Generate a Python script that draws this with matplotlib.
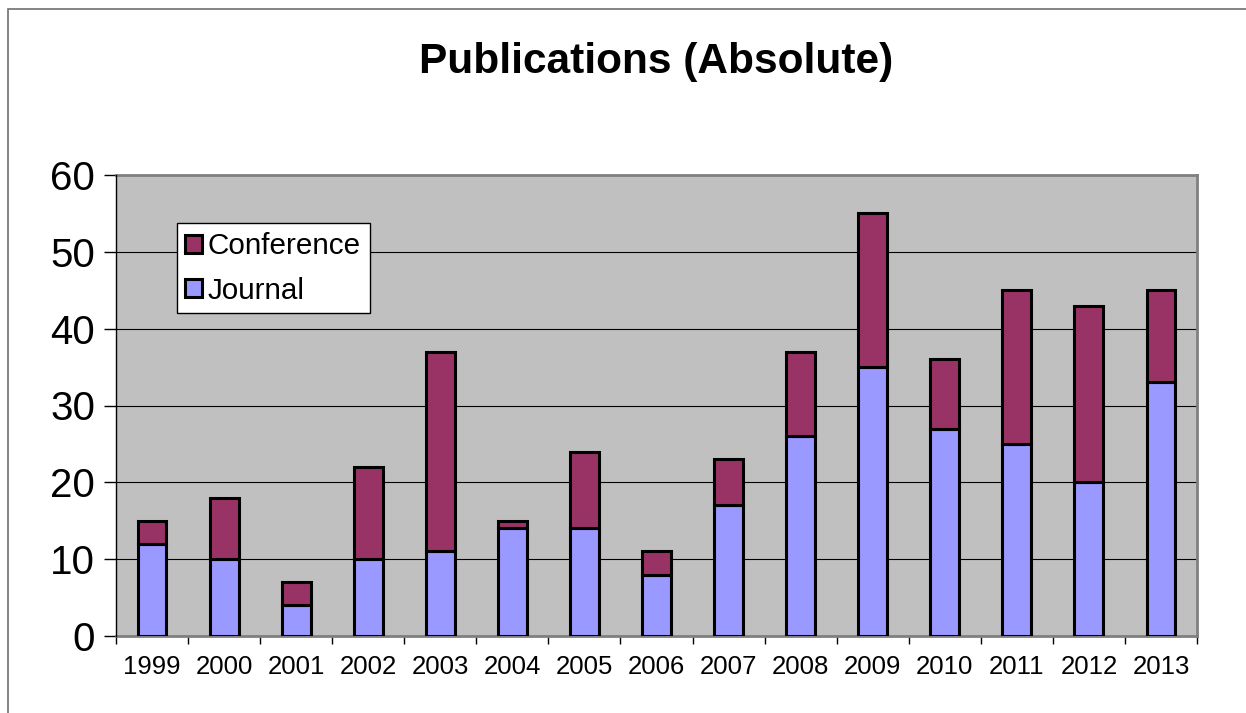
import numpy as np
import matplotlib.pyplot as plt
from matplotlib.patches import Rectangle

plt.rcParams['font.family'] = ['Liberation Sans', 'DejaVu Sans']

years = ['1999', '2000', '2001', '2002', '2003', '2004', '2005', '2006',
         '2007', '2008', '2009', '2010', '2011', '2012', '2013']
journal = [12, 10, 4, 10, 11, 14, 14, 8, 17, 26, 35, 27, 25, 20, 33]
conference = [3, 8, 3, 12, 26, 1, 10, 3, 6, 11, 20, 9, 20, 23, 12]

W, H = 1246, 713
fig = plt.figure(figsize=(W / 100, H / 100), dpi=100)
ax = fig.add_axes([116 / W, 1 - 636 / H, (1197 - 116) / W, (636 - 175) / H])
ax.set_facecolor('#C0C0C0')

# outer chart border (runs off the right and bottom edge)
fig.patches.append(Rectangle((8 / W, -0.1), 2, 1.1 - 9 / H, transform=fig.transFigure,
                             fill=False, edgecolor='#707070', linewidth=1.2))

x = np.arange(len(years))
bj = ax.bar(x, journal, 0.4, color='#9999FF', edgecolor='black', linewidth=2.2,
            label='Journal', zorder=3)
bc = ax.bar(x, conference, 0.4, bottom=journal, color='#993366', edgecolor='black',
            linewidth=2.2, label='Conference', zorder=3)

ax.set_xlim(-0.5, len(years) - 0.5)
ax.set_ylim(0, 60)
ax.set_yticks(range(0, 61, 10))
ax.yaxis.grid(True, color='black', linewidth=0.8, zorder=1)
ax.set_xticks(x)
ax.set_xticklabels(years, fontsize=18.5)
ax.set_xticks(np.arange(-0.5, len(years)), minor=True)
ax.tick_params(axis='x', which='major', length=0, pad=14)
ax.tick_params(axis='x', which='minor', length=6, width=1, color='black', direction='out')
ax.tick_params(axis='y', labelsize=29, length=9, width=1, direction='out', pad=6)

for s in ['top', 'right', 'bottom']:
    ax.spines[s].set_color('#808080')
    ax.spines[s].set_linewidth(2)
ax.spines['left'].set_color('black')
ax.spines['left'].set_linewidth(1)
ax.spines['left'].set_zorder(4)

leg = ax.legend([bc, bj], ['Conference', 'Journal'], loc='upper left',
                bbox_to_anchor=(0.056, 0.895), fontsize=21.3, frameon=True, fancybox=False,
                edgecolor='black', facecolor='white', framealpha=1,
                handlelength=0.55, handleheight=0.55, handletextpad=0.2,
                borderpad=0.3, labelspacing=0.55, borderaxespad=0)
leg.get_frame().set_linewidth(1)

fig.text(0.5 * (420 + 892) / W, 1 - 62 / H, 'Publications (Absolute)', fontsize=30.5,
         fontweight='bold', ha='center', va='center')

fig.savefig('out.png', dpi=100)
